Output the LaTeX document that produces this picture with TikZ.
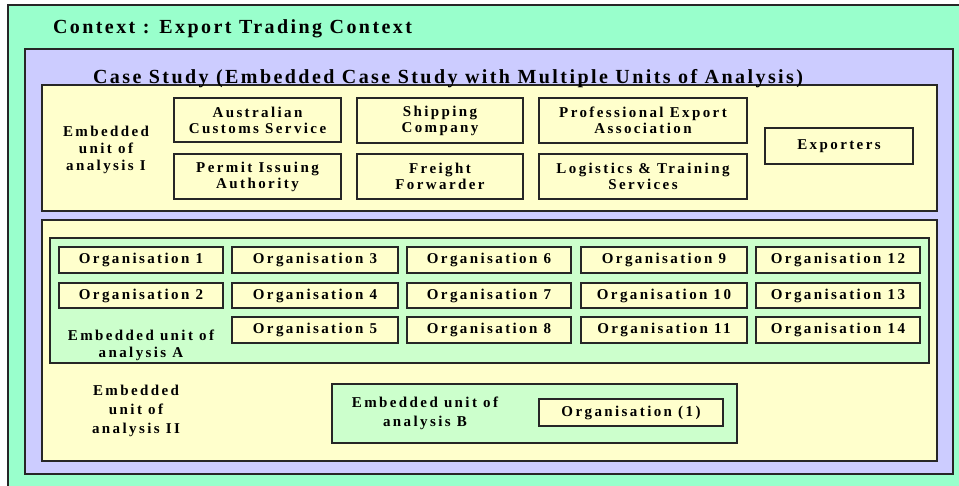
\documentclass[tikz,border=0pt]{standalone}
\usepackage{fontspec}
\setmainfont{Liberation Serif}
\newfontfamily\bigfont{Liberation Serif}[LetterSpace=12.2]
\newfontfamily\smallfont{Liberation Serif}[LetterSpace=16]
\definecolor{ctx}{RGB}{153,255,204}
\definecolor{purp}{RGB}{204,204,255}
\definecolor{yel}{RGB}{255,255,204}
\definecolor{lgr}{RGB}{204,255,204}
\newcommand\rbox[7][]{\node[#1, minimum width={(#5-#3)*1pt}, minimum height={(#6-#4)*1pt}] (#2) at ({(#3+#5)/2},{(#4+#6)/2}) {#7};}
\begin{document}
\begin{tikzpicture}[x=1pt,y=-1pt,
  every node/.style={inner sep=0pt, outer sep=0pt},
  frame/.style={draw=black!85, line width=1.5pt},
  cbox/.style={frame, fill=#1},
  ubox/.style={frame, fill=yel, align=center, font=\smallfont\bfseries\fontsize{15}{16}\selectfont},
  lbl/.style={align=center, font=\smallfont\bfseries\fontsize{15}{17}\selectfont},
  lblwide/.style={align=center, font=\smallfont\bfseries\fontsize{15}{19}\selectfont},
  ttl/.style={anchor=base west, font=\bigfont\bfseries\fontsize{20}{22}\selectfont}
]
\path[use as bounding box] (0,0) rectangle (959,485);
\clip (0,0) rectangle (959,485);
\fill[white] (0,0) rectangle (959,485);
% containers
\rbox[cbox=ctx]{context}{8}{5}{975}{500}{}
\rbox[cbox=purp]{casestudy}{25}{49}{953}{474}{}
\rbox[cbox=yel]{unitI}{42}{85}{937}{211}{}
\rbox[cbox=yel]{unitII}{42}{220}{937}{461}{}
\rbox[cbox=lgr]{unitA}{50}{238}{929}{363}{}
\rbox[cbox=lgr]{unitB}{332}{384}{737}{443}{}
% titles
\node[ttl] (ctxtitle) at (53,33) {Context : Export Trading Context};
\node[ttl] (cstitle) at (93,83) {Case Study (Embedded Case Study with Multiple Units of Analysis)};
% embedded unit I
\node[lbl] (lblI) at (106,150) {Embedded\\unit of\\analysis I};
\rbox[ubox]{acs}{174}{98}{341}{142}{Australian\\Customs Service}
\rbox[ubox]{pia}{174}{154}{341}{199}{Permit Issuing\\Authority}
\rbox[ubox]{shc}{357}{98}{523}{143}{Shipping\\Company}
\rbox[ubox]{ffw}{357}{154}{523}{199}{Freight\\Forwarder}
\rbox[ubox]{pea}{539}{98}{747}{143}{Professional Export\\Association}
\rbox[ubox]{lts}{539}{154}{747}{199}{Logistics \& Training\\Services}
\rbox[ubox]{exp}{765}{128}{913}{164}{Exporters}
% embedded unit A
\rbox[ubox]{o1}{59}{247}{223}{273}{Organisation 1}
\rbox[ubox]{o2}{59}{283}{223}{308}{Organisation 2}
\node[lbl] (lblA) at (141,345) {Embedded unit of\\analysis A};
\rbox[ubox]{o3}{232}{247}{398}{273}{Organisation 3}
\rbox[ubox]{o4}{232}{283}{398}{308}{Organisation 4}
\rbox[ubox]{o5}{232}{317}{398}{343}{Organisation 5}
\rbox[ubox]{o6}{407}{247}{571}{273}{Organisation 6}
\rbox[ubox]{o7}{407}{283}{571}{308}{Organisation 7}
\rbox[ubox]{o8}{407}{317}{571}{343}{Organisation 8}
\rbox[ubox]{o9}{581}{247}{747}{273}{Organisation 9}
\rbox[ubox]{o10}{581}{283}{747}{308}{Organisation 10}
\rbox[ubox]{o11}{581}{317}{747}{343}{Organisation 11}
\rbox[ubox]{o12}{756}{247}{920}{273}{Organisation 12}
\rbox[ubox]{o13}{756}{283}{920}{308}{Organisation 13}
\rbox[ubox]{o14}{756}{317}{920}{343}{Organisation 14}
% embedded unit II
\node[lblwide] (lblII) at (136,411) {Embedded\\unit of\\analysis II};
% embedded unit B
\node[lblwide] (lblB) at (425,413) {Embedded unit of\\analysis B};
\rbox[ubox]{ob1}{539}{399}{723}{426}{Organisation (1)}
\end{tikzpicture}
\end{document}
